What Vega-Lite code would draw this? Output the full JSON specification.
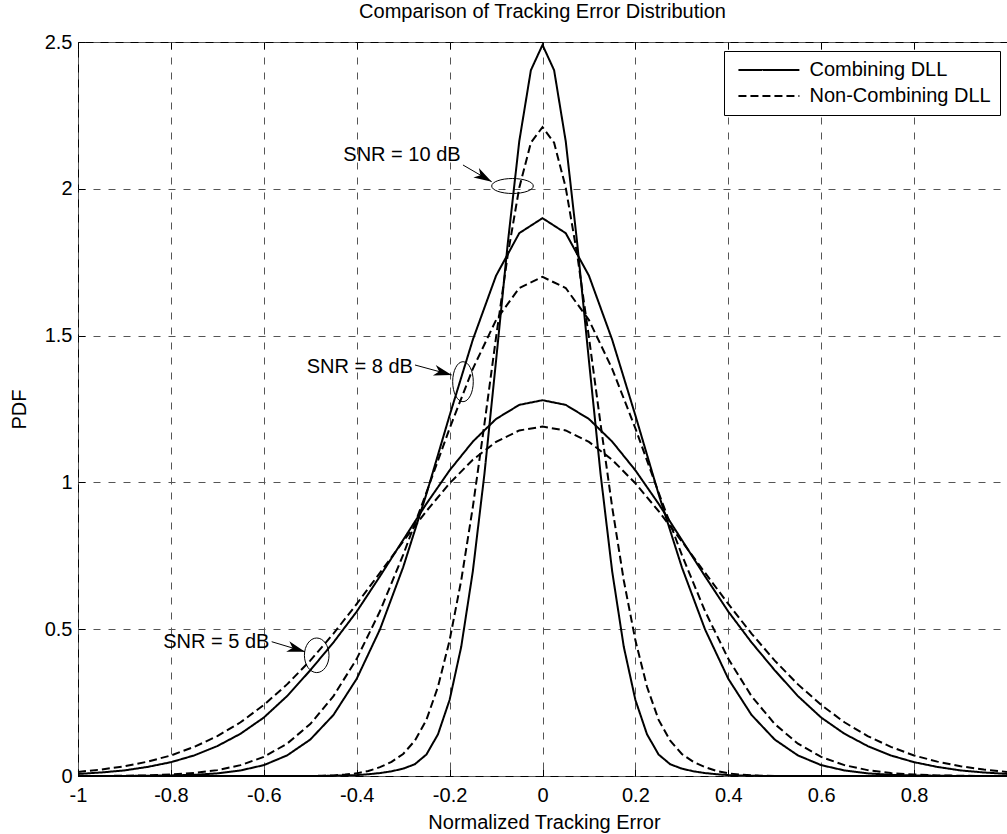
{
  "$schema": "https://vega.github.io/schema/vega-lite/v6.json",
  "width": 929,
  "height": 734,
  "autosize": {"type": "none"},
  "padding": {"left": 78, "top": 42, "right": 0, "bottom": 58},
  "background": "white",
  "config": {
    "font": "Liberation Sans",
    "view": {"stroke": "black", "strokeWidth": 1},
    "axis": {
      "labelFont": "Liberation Sans",
      "titleFont": "Liberation Sans",
      "labelColor": "black",
      "titleColor": "black",
      "labelFontSize": 20,
      "titleFontSize": 20,
      "titleFontWeight": "normal",
      "gridColor": "#555",
      "gridDash": [7, 8],
      "gridWidth": 1,
      "gridOpacity": 1,
      "tickColor": "black",
      "domain": false
    }
  },
  "title": {
    "text": "Comparison of Tracking Error Distribution",
    "fontSize": 20,
    "fontWeight": "normal",
    "font": "Liberation Sans",
    "color": "black",
    "anchor": "middle",
    "baseline": "alphabetic",
    "offset": 15,
    "dy": 21
  },
  "datasets": {
    "curves": [
      {"s":"5","m":"Combining DLL","x":-1,"y":0.007},{"s":"5","m":"Combining DLL","x":-0.95,"y":0.012},{"s":"5","m":"Combining DLL","x":-0.9,"y":0.019},{"s":"5","m":"Combining DLL","x":-0.85,"y":0.031},{"s":"5","m":"Combining DLL","x":-0.8,"y":0.047},{"s":"5","m":"Combining DLL","x":-0.75,"y":0.07},{"s":"5","m":"Combining DLL","x":-0.7,"y":0.102},{"s":"5","m":"Combining DLL","x":-0.65,"y":0.144},{"s":"5","m":"Combining DLL","x":-0.6,"y":0.199},{"s":"5","m":"Combining DLL","x":-0.55,"y":0.272},{"s":"5","m":"Combining DLL","x":-0.5,"y":0.36},{"s":"5","m":"Combining DLL","x":-0.45,"y":0.455},{"s":"5","m":"Combining DLL","x":-0.4,"y":0.56},{"s":"5","m":"Combining DLL","x":-0.35,"y":0.68},{"s":"5","m":"Combining DLL","x":-0.3,"y":0.804},{"s":"5","m":"Combining DLL","x":-0.25,"y":0.927},{"s":"5","m":"Combining DLL","x":-0.2,"y":1.041},{"s":"5","m":"Combining DLL","x":-0.15,"y":1.139},{"s":"5","m":"Combining DLL","x":-0.1,"y":1.216},{"s":"5","m":"Combining DLL","x":-0.05,"y":1.264},{"s":"5","m":"Combining DLL","x":0,"y":1.28},{"s":"5","m":"Combining DLL","x":0.05,"y":1.264},{"s":"5","m":"Combining DLL","x":0.1,"y":1.216},{"s":"5","m":"Combining DLL","x":0.15,"y":1.139},{"s":"5","m":"Combining DLL","x":0.2,"y":1.041},{"s":"5","m":"Combining DLL","x":0.25,"y":0.927},{"s":"5","m":"Combining DLL","x":0.3,"y":0.804},{"s":"5","m":"Combining DLL","x":0.35,"y":0.68},{"s":"5","m":"Combining DLL","x":0.4,"y":0.56},{"s":"5","m":"Combining DLL","x":0.45,"y":0.455},{"s":"5","m":"Combining DLL","x":0.5,"y":0.36},{"s":"5","m":"Combining DLL","x":0.55,"y":0.272},{"s":"5","m":"Combining DLL","x":0.6,"y":0.199},{"s":"5","m":"Combining DLL","x":0.65,"y":0.144},{"s":"5","m":"Combining DLL","x":0.7,"y":0.102},{"s":"5","m":"Combining DLL","x":0.75,"y":0.07},{"s":"5","m":"Combining DLL","x":0.8,"y":0.047},{"s":"5","m":"Combining DLL","x":0.85,"y":0.031},{"s":"5","m":"Combining DLL","x":0.9,"y":0.019},{"s":"5","m":"Combining DLL","x":0.95,"y":0.012},{"s":"5","m":"Combining DLL","x":1,"y":0.007},

      {"s":"5","m":"Non-Combining DLL","x":-1,"y":0.014},{"s":"5","m":"Non-Combining DLL","x":-0.95,"y":0.022},{"s":"5","m":"Non-Combining DLL","x":-0.9,"y":0.033},{"s":"5","m":"Non-Combining DLL","x":-0.85,"y":0.049},{"s":"5","m":"Non-Combining DLL","x":-0.8,"y":0.07},{"s":"5","m":"Non-Combining DLL","x":-0.75,"y":0.099},{"s":"5","m":"Non-Combining DLL","x":-0.7,"y":0.136},{"s":"5","m":"Non-Combining DLL","x":-0.65,"y":0.183},{"s":"5","m":"Non-Combining DLL","x":-0.6,"y":0.242},{"s":"5","m":"Non-Combining DLL","x":-0.55,"y":0.312},{"s":"5","m":"Non-Combining DLL","x":-0.5,"y":0.393},{"s":"5","m":"Non-Combining DLL","x":-0.45,"y":0.485},{"s":"5","m":"Non-Combining DLL","x":-0.4,"y":0.586},{"s":"5","m":"Non-Combining DLL","x":-0.35,"y":0.692},{"s":"5","m":"Non-Combining DLL","x":-0.3,"y":0.799},{"s":"5","m":"Non-Combining DLL","x":-0.25,"y":0.902},{"s":"5","m":"Non-Combining DLL","x":-0.2,"y":0.997},{"s":"5","m":"Non-Combining DLL","x":-0.15,"y":1.077},{"s":"5","m":"Non-Combining DLL","x":-0.1,"y":1.138},{"s":"5","m":"Non-Combining DLL","x":-0.05,"y":1.177},{"s":"5","m":"Non-Combining DLL","x":0,"y":1.19},{"s":"5","m":"Non-Combining DLL","x":0.05,"y":1.177},{"s":"5","m":"Non-Combining DLL","x":0.1,"y":1.138},{"s":"5","m":"Non-Combining DLL","x":0.15,"y":1.077},{"s":"5","m":"Non-Combining DLL","x":0.2,"y":0.997},{"s":"5","m":"Non-Combining DLL","x":0.25,"y":0.902},{"s":"5","m":"Non-Combining DLL","x":0.3,"y":0.799},{"s":"5","m":"Non-Combining DLL","x":0.35,"y":0.692},{"s":"5","m":"Non-Combining DLL","x":0.4,"y":0.586},{"s":"5","m":"Non-Combining DLL","x":0.45,"y":0.485},{"s":"5","m":"Non-Combining DLL","x":0.5,"y":0.393},{"s":"5","m":"Non-Combining DLL","x":0.55,"y":0.312},{"s":"5","m":"Non-Combining DLL","x":0.6,"y":0.242},{"s":"5","m":"Non-Combining DLL","x":0.65,"y":0.183},{"s":"5","m":"Non-Combining DLL","x":0.7,"y":0.136},{"s":"5","m":"Non-Combining DLL","x":0.75,"y":0.099},{"s":"5","m":"Non-Combining DLL","x":0.8,"y":0.07},{"s":"5","m":"Non-Combining DLL","x":0.85,"y":0.049},{"s":"5","m":"Non-Combining DLL","x":0.9,"y":0.033},{"s":"5","m":"Non-Combining DLL","x":0.95,"y":0.022},{"s":"5","m":"Non-Combining DLL","x":1,"y":0.014},

      {"s":"8","m":"Combining DLL","x":-1,"y":0},{"s":"8","m":"Combining DLL","x":-0.95,"y":0},{"s":"8","m":"Combining DLL","x":-0.9,"y":0},{"s":"8","m":"Combining DLL","x":-0.85,"y":0.001},{"s":"8","m":"Combining DLL","x":-0.8,"y":0.002},{"s":"8","m":"Combining DLL","x":-0.75,"y":0.004},{"s":"8","m":"Combining DLL","x":-0.7,"y":0.009},{"s":"8","m":"Combining DLL","x":-0.65,"y":0.019},{"s":"8","m":"Combining DLL","x":-0.6,"y":0.037},{"s":"8","m":"Combining DLL","x":-0.55,"y":0.07},{"s":"8","m":"Combining DLL","x":-0.5,"y":0.124},{"s":"8","m":"Combining DLL","x":-0.45,"y":0.208},{"s":"8","m":"Combining DLL","x":-0.4,"y":0.331},{"s":"8","m":"Combining DLL","x":-0.35,"y":0.499},{"s":"8","m":"Combining DLL","x":-0.3,"y":0.711},{"s":"8","m":"Combining DLL","x":-0.25,"y":0.96},{"s":"8","m":"Combining DLL","x":-0.2,"y":1.228},{"s":"8","m":"Combining DLL","x":-0.15,"y":1.486},{"s":"8","m":"Combining DLL","x":-0.1,"y":1.704},{"s":"8","m":"Combining DLL","x":-0.05,"y":1.849},{"s":"8","m":"Combining DLL","x":0,"y":1.9},{"s":"8","m":"Combining DLL","x":0.05,"y":1.849},{"s":"8","m":"Combining DLL","x":0.1,"y":1.704},{"s":"8","m":"Combining DLL","x":0.15,"y":1.486},{"s":"8","m":"Combining DLL","x":0.2,"y":1.228},{"s":"8","m":"Combining DLL","x":0.25,"y":0.96},{"s":"8","m":"Combining DLL","x":0.3,"y":0.711},{"s":"8","m":"Combining DLL","x":0.35,"y":0.499},{"s":"8","m":"Combining DLL","x":0.4,"y":0.331},{"s":"8","m":"Combining DLL","x":0.45,"y":0.208},{"s":"8","m":"Combining DLL","x":0.5,"y":0.124},{"s":"8","m":"Combining DLL","x":0.55,"y":0.07},{"s":"8","m":"Combining DLL","x":0.6,"y":0.037},{"s":"8","m":"Combining DLL","x":0.65,"y":0.019},{"s":"8","m":"Combining DLL","x":0.7,"y":0.009},{"s":"8","m":"Combining DLL","x":0.75,"y":0.004},{"s":"8","m":"Combining DLL","x":0.8,"y":0.002},{"s":"8","m":"Combining DLL","x":0.85,"y":0.001},{"s":"8","m":"Combining DLL","x":0.9,"y":0},{"s":"8","m":"Combining DLL","x":0.95,"y":0},{"s":"8","m":"Combining DLL","x":1,"y":0},

      {"s":"8","m":"Non-Combining DLL","x":-1,"y":0},{"s":"8","m":"Non-Combining DLL","x":-0.95,"y":0},{"s":"8","m":"Non-Combining DLL","x":-0.9,"y":0.001},{"s":"8","m":"Non-Combining DLL","x":-0.85,"y":0.002},{"s":"8","m":"Non-Combining DLL","x":-0.8,"y":0.005},{"s":"8","m":"Non-Combining DLL","x":-0.75,"y":0.01},{"s":"8","m":"Non-Combining DLL","x":-0.7,"y":0.02},{"s":"8","m":"Non-Combining DLL","x":-0.65,"y":0.037},{"s":"8","m":"Non-Combining DLL","x":-0.6,"y":0.065},{"s":"8","m":"Non-Combining DLL","x":-0.55,"y":0.11},{"s":"8","m":"Non-Combining DLL","x":-0.5,"y":0.177},{"s":"8","m":"Non-Combining DLL","x":-0.45,"y":0.272},{"s":"8","m":"Non-Combining DLL","x":-0.4,"y":0.399},{"s":"8","m":"Non-Combining DLL","x":-0.35,"y":0.561},{"s":"8","m":"Non-Combining DLL","x":-0.3,"y":0.753},{"s":"8","m":"Non-Combining DLL","x":-0.25,"y":0.965},{"s":"8","m":"Non-Combining DLL","x":-0.2,"y":1.184},{"s":"8","m":"Non-Combining DLL","x":-0.15,"y":1.387},{"s":"8","m":"Non-Combining DLL","x":-0.1,"y":1.553},{"s":"8","m":"Non-Combining DLL","x":-0.05,"y":1.662},{"s":"8","m":"Non-Combining DLL","x":0,"y":1.7},{"s":"8","m":"Non-Combining DLL","x":0.05,"y":1.662},{"s":"8","m":"Non-Combining DLL","x":0.1,"y":1.553},{"s":"8","m":"Non-Combining DLL","x":0.15,"y":1.387},{"s":"8","m":"Non-Combining DLL","x":0.2,"y":1.184},{"s":"8","m":"Non-Combining DLL","x":0.25,"y":0.965},{"s":"8","m":"Non-Combining DLL","x":0.3,"y":0.753},{"s":"8","m":"Non-Combining DLL","x":0.35,"y":0.561},{"s":"8","m":"Non-Combining DLL","x":0.4,"y":0.399},{"s":"8","m":"Non-Combining DLL","x":0.45,"y":0.272},{"s":"8","m":"Non-Combining DLL","x":0.5,"y":0.177},{"s":"8","m":"Non-Combining DLL","x":0.55,"y":0.11},{"s":"8","m":"Non-Combining DLL","x":0.6,"y":0.065},{"s":"8","m":"Non-Combining DLL","x":0.65,"y":0.037},{"s":"8","m":"Non-Combining DLL","x":0.7,"y":0.02},{"s":"8","m":"Non-Combining DLL","x":0.75,"y":0.01},{"s":"8","m":"Non-Combining DLL","x":0.8,"y":0.005},{"s":"8","m":"Non-Combining DLL","x":0.85,"y":0.002},{"s":"8","m":"Non-Combining DLL","x":0.9,"y":0.001},{"s":"8","m":"Non-Combining DLL","x":0.95,"y":0},{"s":"8","m":"Non-Combining DLL","x":1,"y":0},

      {"s":"10","m":"Combining DLL","x":-1,"y":0},{"s":"10","m":"Combining DLL","x":-0.75,"y":0},{"s":"10","m":"Combining DLL","x":-0.5,"y":0},{"s":"10","m":"Combining DLL","x":-0.475,"y":0},{"s":"10","m":"Combining DLL","x":-0.45,"y":0.001},{"s":"10","m":"Combining DLL","x":-0.425,"y":0.002},{"s":"10","m":"Combining DLL","x":-0.4,"y":0.003},{"s":"10","m":"Combining DLL","x":-0.375,"y":0.006},{"s":"10","m":"Combining DLL","x":-0.35,"y":0.01},{"s":"10","m":"Combining DLL","x":-0.325,"y":0.016},{"s":"10","m":"Combining DLL","x":-0.3,"y":0.025},{"s":"10","m":"Combining DLL","x":-0.275,"y":0.04},{"s":"10","m":"Combining DLL","x":-0.25,"y":0.073},{"s":"10","m":"Combining DLL","x":-0.225,"y":0.142},{"s":"10","m":"Combining DLL","x":-0.2,"y":0.259},{"s":"10","m":"Combining DLL","x":-0.175,"y":0.44},{"s":"10","m":"Combining DLL","x":-0.15,"y":0.697},{"s":"10","m":"Combining DLL","x":-0.125,"y":1.029},{"s":"10","m":"Combining DLL","x":-0.1,"y":1.414},{"s":"10","m":"Combining DLL","x":-0.075,"y":1.811},{"s":"10","m":"Combining DLL","x":-0.05,"y":2.162},{"s":"10","m":"Combining DLL","x":-0.025,"y":2.404},{"s":"10","m":"Combining DLL","x":0,"y":2.49},{"s":"10","m":"Combining DLL","x":0.025,"y":2.404},{"s":"10","m":"Combining DLL","x":0.05,"y":2.162},{"s":"10","m":"Combining DLL","x":0.075,"y":1.811},{"s":"10","m":"Combining DLL","x":0.1,"y":1.414},{"s":"10","m":"Combining DLL","x":0.125,"y":1.029},{"s":"10","m":"Combining DLL","x":0.15,"y":0.697},{"s":"10","m":"Combining DLL","x":0.175,"y":0.44},{"s":"10","m":"Combining DLL","x":0.2,"y":0.259},{"s":"10","m":"Combining DLL","x":0.225,"y":0.142},{"s":"10","m":"Combining DLL","x":0.25,"y":0.073},{"s":"10","m":"Combining DLL","x":0.275,"y":0.04},{"s":"10","m":"Combining DLL","x":0.3,"y":0.025},{"s":"10","m":"Combining DLL","x":0.325,"y":0.016},{"s":"10","m":"Combining DLL","x":0.35,"y":0.01},{"s":"10","m":"Combining DLL","x":0.375,"y":0.006},{"s":"10","m":"Combining DLL","x":0.4,"y":0.003},{"s":"10","m":"Combining DLL","x":0.425,"y":0.002},{"s":"10","m":"Combining DLL","x":0.45,"y":0.001},{"s":"10","m":"Combining DLL","x":0.475,"y":0},{"s":"10","m":"Combining DLL","x":0.5,"y":0},{"s":"10","m":"Combining DLL","x":0.75,"y":0},{"s":"10","m":"Combining DLL","x":1,"y":0},

      {"s":"10","m":"Non-Combining DLL","x":-1,"y":0},{"s":"10","m":"Non-Combining DLL","x":-0.75,"y":0},{"s":"10","m":"Non-Combining DLL","x":-0.5,"y":0},{"s":"10","m":"Non-Combining DLL","x":-0.475,"y":0.001},{"s":"10","m":"Non-Combining DLL","x":-0.45,"y":0.002},{"s":"10","m":"Non-Combining DLL","x":-0.425,"y":0.005},{"s":"10","m":"Non-Combining DLL","x":-0.4,"y":0.009},{"s":"10","m":"Non-Combining DLL","x":-0.375,"y":0.017},{"s":"10","m":"Non-Combining DLL","x":-0.35,"y":0.03},{"s":"10","m":"Non-Combining DLL","x":-0.325,"y":0.048},{"s":"10","m":"Non-Combining DLL","x":-0.3,"y":0.075},{"s":"10","m":"Non-Combining DLL","x":-0.275,"y":0.12},{"s":"10","m":"Non-Combining DLL","x":-0.25,"y":0.191},{"s":"10","m":"Non-Combining DLL","x":-0.225,"y":0.304},{"s":"10","m":"Non-Combining DLL","x":-0.2,"y":0.462},{"s":"10","m":"Non-Combining DLL","x":-0.175,"y":0.666},{"s":"10","m":"Non-Combining DLL","x":-0.15,"y":0.916},{"s":"10","m":"Non-Combining DLL","x":-0.125,"y":1.199},{"s":"10","m":"Non-Combining DLL","x":-0.1,"y":1.494},{"s":"10","m":"Non-Combining DLL","x":-0.075,"y":1.773},{"s":"10","m":"Non-Combining DLL","x":-0.05,"y":2.004},{"s":"10","m":"Non-Combining DLL","x":-0.025,"y":2.157},{"s":"10","m":"Non-Combining DLL","x":0,"y":2.21},{"s":"10","m":"Non-Combining DLL","x":0.025,"y":2.157},{"s":"10","m":"Non-Combining DLL","x":0.05,"y":2.004},{"s":"10","m":"Non-Combining DLL","x":0.075,"y":1.773},{"s":"10","m":"Non-Combining DLL","x":0.1,"y":1.494},{"s":"10","m":"Non-Combining DLL","x":0.125,"y":1.199},{"s":"10","m":"Non-Combining DLL","x":0.15,"y":0.916},{"s":"10","m":"Non-Combining DLL","x":0.175,"y":0.666},{"s":"10","m":"Non-Combining DLL","x":0.2,"y":0.462},{"s":"10","m":"Non-Combining DLL","x":0.225,"y":0.304},{"s":"10","m":"Non-Combining DLL","x":0.25,"y":0.191},{"s":"10","m":"Non-Combining DLL","x":0.275,"y":0.12},{"s":"10","m":"Non-Combining DLL","x":0.3,"y":0.075},{"s":"10","m":"Non-Combining DLL","x":0.325,"y":0.048},{"s":"10","m":"Non-Combining DLL","x":0.35,"y":0.03},{"s":"10","m":"Non-Combining DLL","x":0.375,"y":0.017},{"s":"10","m":"Non-Combining DLL","x":0.4,"y":0.009},{"s":"10","m":"Non-Combining DLL","x":0.425,"y":0.005},{"s":"10","m":"Non-Combining DLL","x":0.45,"y":0.002},{"s":"10","m":"Non-Combining DLL","x":0.475,"y":0.001},{"s":"10","m":"Non-Combining DLL","x":0.5,"y":0},{"s":"10","m":"Non-Combining DLL","x":0.75,"y":0},{"s":"10","m":"Non-Combining DLL","x":1,"y":0}
    ],
    "labels": [
      {"x": -0.4288, "y": 2.096, "t": "SNR = 10 dB"},
      {"x": -0.5076, "y": 1.3736, "t": "SNR = 8 dB"},
      {"x": -0.8164, "y": 0.437, "t": "SNR = 5 dB"}
    ],
    "arrows": [
      {"x": -0.1712, "y": 2.0811, "x2": -0.1094, "y2": 2.0242},
      {"x": -0.2745, "y": 1.3999, "x2": -0.1955, "y2": 1.3658},
      {"x": -0.583, "y": 0.4574, "x2": -0.5113, "y2": 0.4233}
    ],
    "heads": [
      {"k": "a10", "x": -0.1094, "y": 2.0242},
      {"k": "a8", "x": -0.1955, "y": 1.3658},
      {"k": "a5", "x": -0.5113, "y": 0.4233}
    ],
    "ellipses": [
      {"k": "e10", "x": -0.0646, "y": 2.0095},
      {"k": "e8", "x": -0.1712, "y": 1.343},
      {"k": "e5", "x": -0.4861, "y": 0.4111}
    ]
  },
  "layer": [
    {
      "data": {"name": "curves"},
      "mark": {"type": "line", "strokeWidth": 2, "color": "black"},
      "encoding": {
        "x": {
          "field": "x", "type": "quantitative",
          "scale": {"domain": [-1, 1], "nice": false, "zero": false},
          "axis": {
            "orient": "bottom",
            "values": [-1, -0.8, -0.6, -0.4, -0.2, 0, 0.2, 0.4, 0.6, 0.8],
            "labelExpr": "'' + datum.value",
            "labelFlush": false,
            "labelOverlap": false,
            "labelBaseline": "alphabetic",
            "labelPadding": 32,
            "ticks": true,
            "tickSize": -7,
            "grid": true,
            "title": "Normalized Tracking Error",
            "titleX": 466,
            "titleY": 52,
            "titleBaseline": "alphabetic"
          }
        },
        "y": {
          "field": "y", "type": "quantitative",
          "scale": {"domain": [0, 2.5], "nice": false, "zero": false},
          "axis": {
            "values": [0, 0.5, 1, 1.5, 2, 2.5],
            "labelExpr": "'' + datum.value",
            "labelPadding": 13,
            "labelOverlap": false,
            "labelFlush": false,
            "ticks": true,
            "tickSize": -7,
            "grid": true,
            "title": "PDF",
            "titleX": -59,
            "titleY": 367,
            "titleBaseline": "middle",
            "titleAlign": "center"
          }
        },
        "detail": {"field": "s", "type": "nominal"},
        "strokeDash": {
          "field": "m", "type": "nominal",
          "scale": {"domain": ["Combining DLL", "Non-Combining DLL"], "range": [[1, 0], [8, 4]]},
          "legend": {
            "title": null,
            "orient": "none",
            "legendX": 646,
            "legendY": 9,
            "padding": 9,
            "fillColor": "white",
            "strokeColor": "black",
            "symbolType": "M-0.6,0H7.42",
            "symbolSize": 231,
            "symbolStrokeWidth": 2,
            "symbolStrokeColor": "black",
            "labelFontSize": 20,
            "labelFont": "Liberation Sans",
            "labelColor": "black",
            "labelOffset": 56.5,
            "rowPadding": 6,
            "labelLimit": 400,
            "cornerRadius": 0
          }
        }
      }
    },
    {
      "data": {"name": "labels"},
      "mark": {"type": "text", "align": "left", "baseline": "alphabetic", "fontSize": 20, "font": "Liberation Sans", "color": "black"},
      "encoding": {
        "x": {"field": "x", "type": "quantitative", "axis": null},
        "y": {"field": "y", "type": "quantitative"},
        "text": {"field": "t"}
      }
    },
    {
      "data": {"name": "arrows"},
      "mark": {"type": "rule", "color": "black", "strokeWidth": 1},
      "encoding": {
        "x": {"field": "x", "type": "quantitative", "axis": null},
        "y": {"field": "y", "type": "quantitative"},
        "x2": {"field": "x2"},
        "y2": {"field": "y2"}
      }
    },
    {
      "data": {"name": "heads"},
      "mark": {"type": "point", "filled": true, "color": "black", "size": 4, "opacity": 1, "strokeWidth": 0},
      "encoding": {
        "x": {"field": "x", "type": "quantitative", "axis": null},
        "y": {"field": "y", "type": "quantitative"},
        "shape": {
          "field": "k", "type": "nominal", "legend": null,
          "scale": {
            "domain": ["a10", "a8", "a5"],
            "range": [
              "M0,0L-12.79,-13.81L-11.24,-6.54L-18.32,-4.3Z",
              "M0,0L-15.93,-10.03L-12.55,-3.41L-18.81,0.59Z",
              "M0,0L-15.66,-10.44L-12.45,-3.74L-18.82,0.1Z"
            ]
          }
        }
      }
    },
    {
      "data": {"name": "ellipses"},
      "mark": {"type": "point", "filled": false, "color": "black", "size": 4, "opacity": 1, "strokeWidth": 1},
      "encoding": {
        "x": {
          "field": "x", "type": "quantitative",
          "axis": {
            "orient": "top",
            "values": [-1, -0.8, -0.6, -0.4, -0.2, 0, 0.2, 0.4, 0.6, 0.8],
            "labels": false,
            "grid": false,
            "ticks": true,
            "tickSize": -7,
            "title": null
          }
        },
        "y": {"field": "y", "type": "quantitative"},
        "shape": {
          "field": "k", "type": "nominal", "legend": null,
          "scale": {
            "domain": ["e10", "e8", "e5"],
            "range": [
              "M20.8,0C20.8,4.14,11.49,7.5,0,7.5C-11.49,7.5,-20.8,4.14,-20.8,0C-20.8,-4.14,-11.49,-7.5,0,-7.5C11.49,-7.5,20.8,-4.14,20.8,0Z",
              "M10.3,0C10.3,11.05,5.69,20,0,20C-5.69,20,-10.3,11.05,-10.3,0C-10.3,-11.05,-5.69,-20,0,-20C5.69,-20,10.3,-11.05,10.3,0Z",
              "M12.3,0C12.3,9.55,6.79,17.3,0,17.3C-6.79,17.3,-12.3,9.55,-12.3,0C-12.3,-9.55,-6.79,-17.3,0,-17.3C6.79,-17.3,12.3,-9.55,12.3,0Z"
            ]
          }
        }
      }
    }
  ],
  "resolve": {"scale": {"shape": "independent"}, "axis": {"x": "independent"}}
}
